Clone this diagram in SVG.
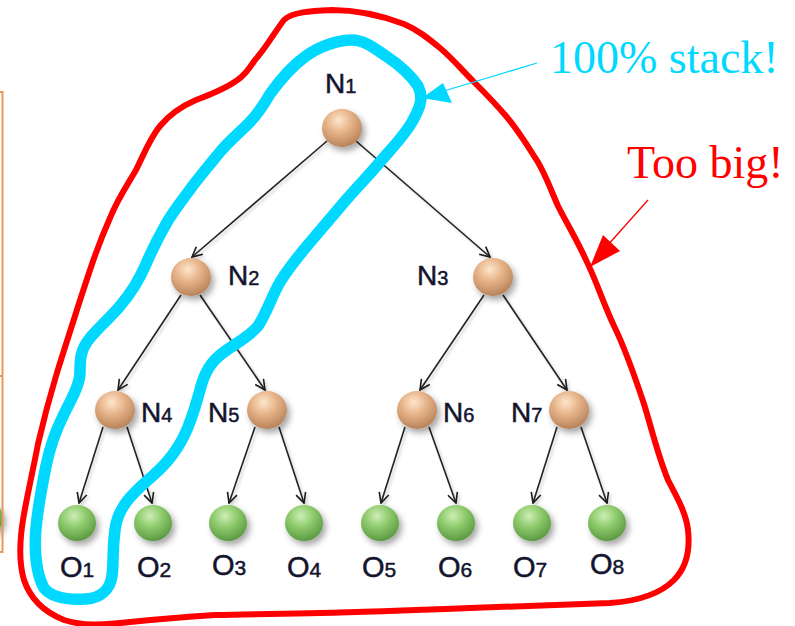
<svg xmlns="http://www.w3.org/2000/svg" width="795" height="626" viewBox="0 0 795 626">
  <defs>
    <radialGradient id="gInner" cx="0.42" cy="0.3" r="0.7">
      <stop offset="0" stop-color="#fde6cc"/>
      <stop offset="0.45" stop-color="#e7b48a"/>
      <stop offset="1" stop-color="#b8835a"/>
    </radialGradient>
    <radialGradient id="gLeaf" cx="0.42" cy="0.3" r="0.7">
      <stop offset="0" stop-color="#cdeeb6"/>
      <stop offset="0.45" stop-color="#90cc6e"/>
      <stop offset="1" stop-color="#5c9a42"/>
    </radialGradient>
    <filter id="shadow" x="-50%" y="-50%" width="200%" height="200%">
      <feDropShadow dx="3" dy="4" stdDeviation="3" flood-color="#000" flood-opacity="0.35"/>
    </filter>
    <filter id="lineShadow" x="-20%" y="-20%" width="140%" height="140%">
      <feDropShadow dx="2" dy="2" stdDeviation="1.5" flood-color="#000" flood-opacity="0.2"/>
    </filter>
    <marker id="vhead" viewBox="0 0 12 12" refX="11" refY="6" markerWidth="12" markerHeight="12" markerUnits="userSpaceOnUse" orient="auto">
      <path d="M1,1 L11,6 L1,11" fill="none" stroke="#1a1a1a" stroke-width="1.6"/>
    </marker>
    <style>
      .edge { stroke: #222; stroke-width: 1.6; fill: none; marker-end: url(#vhead); }
      .inner { fill: url(#gInner); filter: url(#shadow); }
      .leaf { fill: url(#gLeaf); filter: url(#shadow); }
      .lbl { font-family: "Liberation Sans", Arial, sans-serif; font-size: 28px; fill: #14142e; stroke: #14142e; stroke-width: 0.5; }
      .sub { font-size: 20px; }
      .olbl { font-family: "Liberation Sans", Arial, sans-serif; font-size: 29px; fill: #14142e; stroke: #14142e; stroke-width: 0.5; }
      .osub { font-size: 21px; }
      .note { font-family: "Liberation Serif", "Times New Roman", serif; font-size: 46px; }
    </style>
  </defs>

  <rect width="795" height="626" fill="#ffffff"/>

  <!-- edge of the neighbouring panel, cut by the frame -->
  <g id="side-panel">
    <ellipse cx="-14" cy="518" rx="17" ry="17" fill="url(#gLeaf)" filter="url(#shadow)"/>
    <path d="M0,92 H2.5 V552 H0 M0,376 H2.5" fill="none" stroke="#e8995a" stroke-width="2"/>
  </g>

  <!-- tree connectors -->
  <g id="connectors">
    <g filter="url(#lineShadow)">
      <line class="edge" x1="327" y1="141" x2="192" y2="257"/>
      <line class="edge" x1="356" y1="141" x2="490" y2="257"/>
      <line class="edge" x1="181" y1="295" x2="118" y2="390"/>
      <line class="edge" x1="200" y1="295" x2="265" y2="390"/>
      <line class="edge" x1="484" y1="295" x2="420" y2="390"/>
      <line class="edge" x1="503" y1="295" x2="567" y2="390"/>
      <line class="edge" x1="103" y1="427" x2="79" y2="503"/>
      <line class="edge" x1="127" y1="427" x2="152" y2="503"/>
      <line class="edge" x1="255" y1="427" x2="229" y2="503"/>
      <line class="edge" x1="279" y1="427" x2="304" y2="503"/>
      <line class="edge" x1="405" y1="427" x2="381" y2="503"/>
      <line class="edge" x1="429" y1="427" x2="456" y2="503"/>
      <line class="edge" x1="557" y1="427" x2="533" y2="503"/>
      <line class="edge" x1="581" y1="427" x2="607" y2="503"/>
    </g>
  </g>

  <!-- inner nodes -->
  <g id="n1"><ellipse class="inner" cx="342" cy="128" rx="20" ry="19"/><text class="lbl" x="325" y="93">N<tspan class="sub">1</tspan></text></g>
  <g id="n2"><ellipse class="inner" cx="191" cy="277" rx="20" ry="19"/><text class="lbl" x="228" y="285">N<tspan class="sub">2</tspan></text></g>
  <g id="n3"><ellipse class="inner" cx="493" cy="277" rx="20" ry="19"/><text class="lbl" x="417" y="285">N<tspan class="sub">3</tspan></text></g>
  <g id="n4"><ellipse class="inner" cx="115" cy="410" rx="20" ry="19"/><text class="lbl" x="141" y="422">N<tspan class="sub">4</tspan></text></g>
  <g id="n5"><ellipse class="inner" cx="267" cy="410" rx="20" ry="19"/><text class="lbl" x="208" y="422">N<tspan class="sub">5</tspan></text></g>
  <g id="n6"><ellipse class="inner" cx="417" cy="410" rx="20" ry="19"/><text class="lbl" x="443" y="422">N<tspan class="sub">6</tspan></text></g>
  <g id="n7"><ellipse class="inner" cx="569" cy="410" rx="20" ry="19"/><text class="lbl" x="511" y="422">N<tspan class="sub">7</tspan></text></g>

  <!-- leaves -->
  <g id="o1"><ellipse class="leaf" cx="77" cy="523" rx="19" ry="18"/><text class="olbl" x="60" y="577">O<tspan class="osub">1</tspan></text></g>
  <g id="o2"><ellipse class="leaf" cx="153" cy="523" rx="19" ry="18"/><text class="olbl" x="137" y="577">O<tspan class="osub">2</tspan></text></g>
  <g id="o3"><ellipse class="leaf" cx="228" cy="523" rx="19" ry="18"/><text class="olbl" x="212" y="575">O<tspan class="osub">3</tspan></text></g>
  <g id="o4"><ellipse class="leaf" cx="304" cy="523" rx="19" ry="18"/><text class="olbl" x="287" y="577">O<tspan class="osub">4</tspan></text></g>
  <g id="o5"><ellipse class="leaf" cx="380" cy="523" rx="19" ry="18"/><text class="olbl" x="362" y="577">O<tspan class="osub">5</tspan></text></g>
  <g id="o6"><ellipse class="leaf" cx="456" cy="523" rx="19" ry="18"/><text class="olbl" x="438" y="577">O<tspan class="osub">6</tspan></text></g>
  <g id="o7"><ellipse class="leaf" cx="532" cy="523" rx="19" ry="18"/><text class="olbl" x="513" y="577">O<tspan class="osub">7</tspan></text></g>
  <g id="o8"><ellipse class="leaf" cx="607" cy="523" rx="19" ry="18"/><text class="olbl" x="590" y="574">O<tspan class="osub">8</tspan></text></g>

  <!-- hand-drawn outline around the whole tree -->
  <g id="too-big">
    <path d="M332,10 C310,11 292,12 284,20 C276,30 266,48 255,60 C248,70 244,76 236,81 C226,88 212,94 196,100 C182,106 170,114 160,126 C150,138 144,154 136,170 C128,184 118,198 110,218 C102,236 96,252 90,270 C84,288 80,300 75,316 C68,338 62,356 56,376 C50,396 44,418 38,444 C33,470 28,492 24,514 C20,536 18,560 24,580 C30,598 44,612 64,620 C82,626 104,625 130,622 C160,619 185,617 215,615 C250,614 280,614 320,613 C370,612 420,610 470,608 C520,606 570,604 610,603 C640,601 660,594 674,580 C688,566 690,548 688,530 C686,512 676,496 668,480 C658,456 652,430 644,404 C636,380 626,350 614,326 C602,300 596,280 586,260 C576,238 566,222 558,206 C550,188 544,170 534,156 C524,140 516,128 506,116 C494,102 484,92 474,82 C462,70 452,58 440,48 C428,38 418,30 404,24 C388,18 360,10 332,10 Z" fill="none" stroke="#ff0000" stroke-width="6" stroke-linejoin="round"/>
    <line x1="648" y1="200" x2="607" y2="246" stroke="#ff0000" stroke-width="1.3"/>
    <polygon points="590,267 603,235 620,251" fill="#ff0000"/>
    <text class="note" x="627" y="178" fill="#ff0000">Too big!</text>
  </g>

  <!-- hand-drawn outline around the leftmost path -->
  <g id="stack">
    <path d="M352,40 C338,40 320,46 306,56 C292,66 280,80 270,94 C262,108 256,116 248,124 C238,134 228,142 220,152 C210,164 202,174 194,184 C184,198 174,210 166,224 C158,238 152,250 146,264 C140,278 132,292 120,306 C110,318 98,328 90,338 C80,350 80,360 80,372 C80,384 72,398 64,414 C56,430 50,446 46,466 C42,486 38,506 36,528 C34,550 36,574 44,588 C52,598 70,600 86,599 C100,598 110,590 112,576 C114,560 112,544 116,524 C120,506 132,494 148,480 C162,468 174,456 184,436 C192,420 196,404 200,390 C204,374 210,362 224,352 C238,342 250,336 258,326 C266,314 272,296 280,282 C290,266 300,254 312,240 C324,226 334,214 346,200 C358,186 370,174 380,162 C392,148 404,136 412,122 C420,108 424,98 418,86 C410,74 398,64 386,56 C374,48 364,40 352,40 Z" fill="none" stroke="#00d8ff" stroke-width="11.5" stroke-linejoin="round"/>
    <line x1="537" y1="63" x2="444" y2="91" stroke="#00d8ff" stroke-width="1.3"/>
    <polygon points="422,98 443,83 452,103" fill="#00d8ff"/>
    <text class="note" x="550" y="73" fill="#00d8ff">100% stack!</text>
  </g>
</svg>
